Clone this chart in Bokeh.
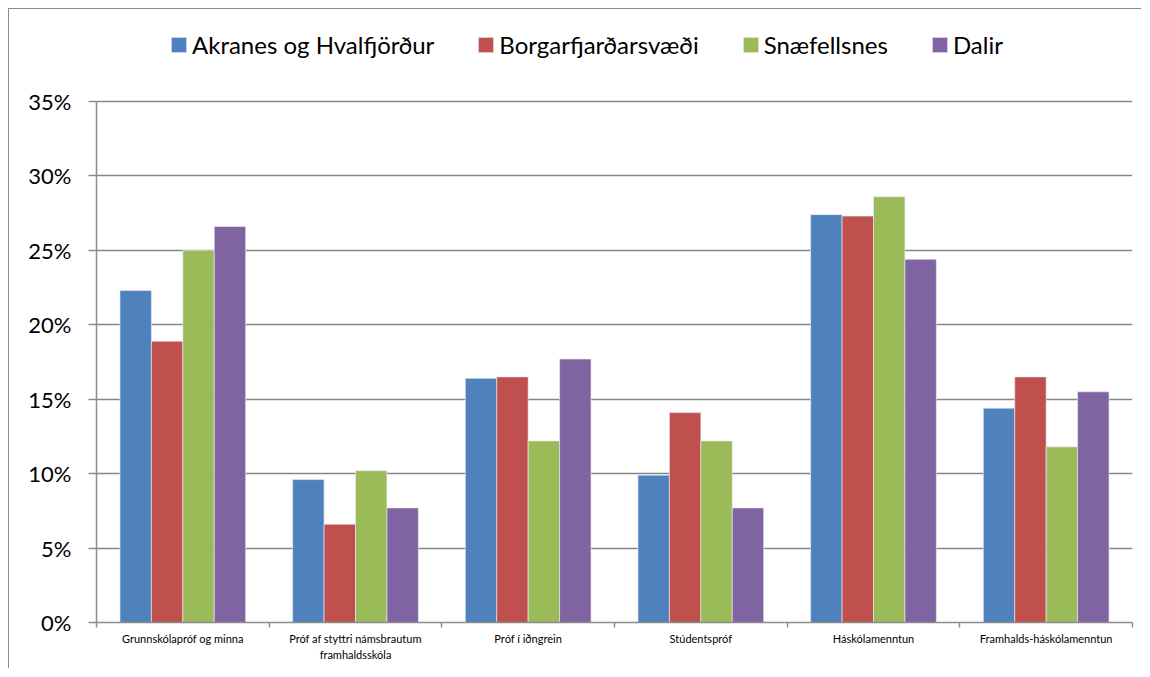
from bokeh.plotting import figure
from bokeh.models import (ColumnDataSource, Range1d, FixedTicker, NumeralTickFormatter,
                          Legend, LegendItem)
from bokeh.embed import file_html
from bokeh.resources import INLINE

categories = ["Grunnskólapróf og minna", "Próf af styttri námsbrautum\nframhaldsskóla",
              "Próf í iðngrein", "Stúdentspróf", "Háskólamenntun", "Framhalds-háskólamenntun"]
series_names = ["Akranes og Hvalfjörður", "Borgarfjarðarsvæði", "Snæfellsnes", "Dalir"]
akranes = [22.3, 9.6, 16.4, 9.9, 27.4, 14.4]
borgarfjordur = [18.9, 6.6, 16.5, 14.1, 27.3, 16.5]
snaefellsnes = [25.0, 10.2, 12.2, 12.2, 28.6, 11.8]
dalir = [26.6, 7.7, 17.7, 7.7, 24.4, 15.5]
colors = ["#4F81BD", "#C0504D", "#9BBB59", "#8064A2"]
y_ticks = [0, 0.05, 0.10, 0.15, 0.20, 0.25, 0.30, 0.35]
y_max = 0.35

FONT = "Lato"

# plot area: value axis occupies 521 px; frame extended upward to hold the legend
axis_px = 521
frame_px = 601
y_top = y_max * frame_px / axis_px

p = figure(width=1133, height=660, output_backend="svg", toolbar_location=None,
           x_range=Range1d(0, len(categories)), y_range=Range1d(0, y_top),
           min_border_left=87, min_border_right=10, min_border_top=12, min_border_bottom=47)
p.styles = {"border-left": "1px solid #8c8c8c", "border-top": "1px solid #8c8c8c",
            "margin-left": "8px", "margin-top": "8px"}
p.outline_line_color = None
p.background_fill_color = "white"
p.border_fill_color = "white"

bar_w = 0.182
offsets = [-1.5 * bar_w, -0.5 * bar_w, 0.5 * bar_w, 1.5 * bar_w]
items = []
for name, vals, col, off in zip(series_names, [akranes, borgarfjordur, snaefellsnes, dalir], colors, offsets):
    src = ColumnDataSource(dict(x=[i + 0.5 + off for i in range(len(categories))],
                                top=[v / 100 for v in vals]))
    r = p.vbar(x="x", top="top", width=bar_w, source=src, fill_color=col,
               line_color="#e8ecf4", line_width=0.8, line_alpha=0.8)
    items.append(LegendItem(label=name, renderers=[r]))

legend = Legend(items=items, orientation="horizontal", location=(73, 563),
                border_line_color=None, background_fill_alpha=0,
                label_text_font=FONT, label_text_font_size="24px", label_text_color="black",
                glyph_width=19, glyph_height=19, label_standoff=4, spacing=42,
                padding=0, margin=0, label_height=24)
p.add_layout(legend, "center")

# y axis
p.yaxis.ticker = FixedTicker(ticks=y_ticks)
p.yaxis.bounds = (0, y_max)
p.yaxis.formatter = NumeralTickFormatter(format="0%")
p.yaxis.major_label_text_font = FONT
p.yaxis.major_label_text_font_size = "22px"
p.yaxis.major_label_text_color = "black"
p.yaxis.axis_line_color = "#8c8c8c"
p.yaxis.axis_line_width = 1.5
p.yaxis.major_tick_line_color = "#8c8c8c"
p.yaxis.major_tick_line_width = 1.5
p.yaxis.major_tick_out = 8
p.yaxis.major_tick_in = 0
p.yaxis.minor_tick_line_color = None
p.yaxis.major_label_standoff = 17

# x axis
p.xaxis.ticker = FixedTicker(ticks=[i + 0.5 for i in range(len(categories))],
                             minor_ticks=list(range(len(categories) + 1)))
p.xaxis.major_label_overrides = {i + 0.5: c for i, c in enumerate(categories)}
p.xaxis.major_label_text_font = FONT
p.xaxis.major_label_text_font_size = "11px"
p.xaxis.major_label_text_color = "black"
p.xaxis.major_label_text_line_height = 1.25
p.xaxis.major_tick_line_color = None
p.xaxis.minor_tick_line_color = "#8c8c8c"
p.xaxis.minor_tick_line_width = 1.5
p.xaxis.minor_tick_out = 5
p.xaxis.minor_tick_in = 0
p.xaxis.axis_line_color = "#8c8c8c"
p.xaxis.axis_line_width = 1.5
p.xaxis.major_label_standoff = 3

p.xgrid.grid_line_color = None
p.ygrid.ticker = FixedTicker(ticks=y_ticks)
p.ygrid.grid_line_color = "#868686"
p.ygrid.grid_line_width = 1.5

open("out.html", "w").write(file_html(p, INLINE))
